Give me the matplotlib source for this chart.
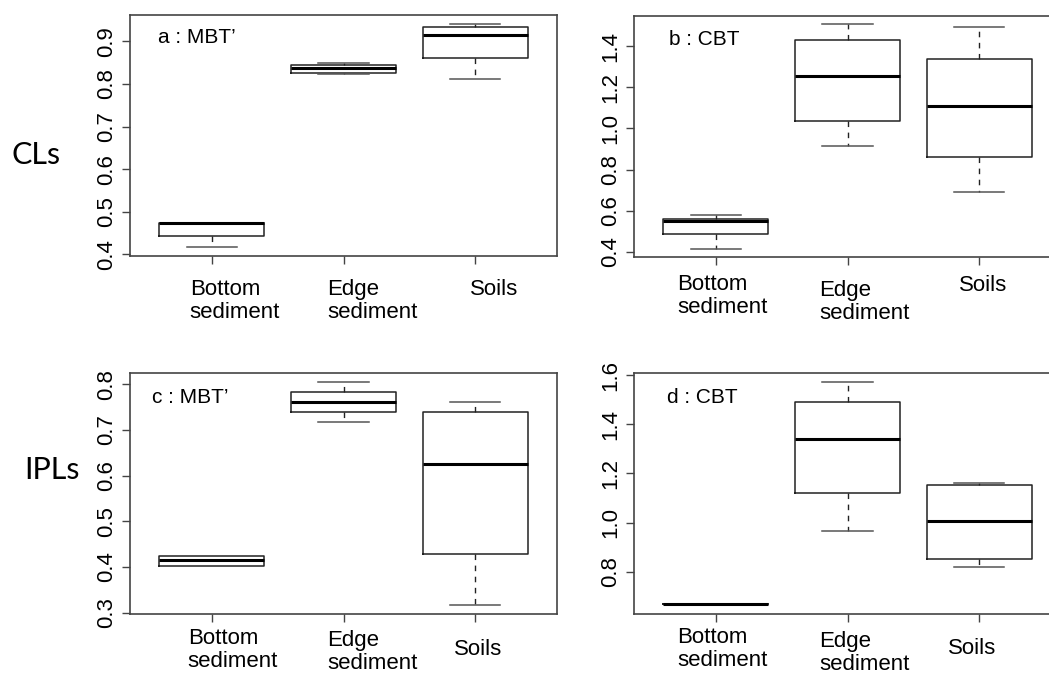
import matplotlib.pyplot as plt

plt.rcParams['font.family'] = ['Liberation Sans', 'DejaVu Sans']

groups = ['Bottom\nsediment', 'Edge\nsediment', 'Soils']
row_names = ['CLs', 'IPLs']
panel_titles = ['a : MBT\u2019', 'b : CBT', 'c : MBT\u2019', 'd : CBT']

# five-number summaries: low whisker, q1, median, q3, high whisker
a_lo = [0.417, 0.8245, 0.812]
a_q1 = [0.444, 0.826, 0.861]
a_med = [0.473, 0.838, 0.916]
a_q3 = [0.474, 0.845, 0.933]
a_hi = [0.474, 0.850, 0.941]

b_lo = [0.417, 0.913, 0.690]
b_q1 = [0.487, 1.036, 0.860]
b_med = [0.552, 1.253, 1.111]
b_q3 = [0.562, 1.429, 1.337]
b_hi = [0.581, 1.505, 1.492]

c_lo = [0.4028, 0.717, 0.316]
c_q1 = [0.4028, 0.739, 0.4277]
c_med = [0.4152, 0.762, 0.625]
c_q3 = [0.4246, 0.783, 0.739]
c_hi = [0.4246, 0.806, 0.761]

d_lo = [0.668, 0.967, 0.819]
d_q1 = [0.668, 1.121, 0.850]
d_med = [0.668, 1.342, 1.007]
d_q3 = [0.668, 1.490, 1.154]
d_hi = [0.668, 1.573, 1.162]

panels = [
    (a_lo, a_q1, a_med, a_q3, a_hi),
    (b_lo, b_q1, b_med, b_q3, b_hi),
    (c_lo, c_q1, c_med, c_q3, c_hi),
    (d_lo, d_q1, d_med, d_q3, d_hi),
]

ylims = [(0.396, 0.962), (0.376, 1.546), (0.297, 0.825), (0.628, 1.609)]
yticks = [[0.4, 0.5, 0.6, 0.7, 0.8, 0.9],
          [0.4, 0.6, 0.8, 1.0, 1.2, 1.4],
          [0.3, 0.4, 0.5, 0.6, 0.7, 0.8],
          [0.8, 1.0, 1.2, 1.4, 1.6]]

W, H = 1049, 673
fig = plt.figure(figsize=(W / 100, H / 100), dpi=100)

# axes boxes in pixels: left, top, right, bottom
boxes = [(130, 15, 557, 256), (634, 16, 1061, 257),
         (130, 373, 557, 614), (634, 373, 1061, 614)]

# label left positions (data x) and drop below axis (px)
label_x = [[0.833, 1.879, 2.962], [0.71, 1.786, 2.847],
           [0.818, 1.879, 2.84], [0.71, 1.786, 2.763]]
label_drop = [[22, 22, 22], [16, 22, 17], [13, 15, 24], [12, 16, 23]]
title_pos = [(0.066, 0.884), (0.082, 0.878), (0.052, 0.876), (0.077, 0.876)]

frame_col = '#444444'

for i, (lo, q1, med, q3, hi) in enumerate(panels):
    l, t, r, b = boxes[i]
    ax = fig.add_axes([l / W, 1 - b / H, (r - l) / W, (b - t) / H])
    stats = []
    for k in range(3):
        stats.append({'whislo': lo[k], 'q1': q1[k], 'med': med[k],
                      'q3': q3[k], 'whishi': hi[k], 'fliers': []})
    ax.bxp(stats, positions=[1, 2, 3], widths=0.8, capwidths=0.38,
           showfliers=False,
           boxprops=dict(color='#222222', linewidth=1.1),
           medianprops=dict(color='black', linewidth=2.2),
           whiskerprops=dict(color='#222222', linewidth=1.0, linestyle=(0, (4, 4))),
           capprops=dict(color='#555555', linewidth=1.1))
    ax.set_xlim(0.38, 3.62)
    ax.set_ylim(*ylims[i])
    ax.set_xticks([1, 2, 3])
    ax.set_xticklabels([])
    ax.set_yticks(yticks[i])
    ax.set_yticklabels(['%.1f' % v for v in yticks[i]], rotation=90,
                       va='center', fontsize=16)
    ax.tick_params(direction='out', length=6, width=1, color=frame_col, pad=3)
    for s in ax.spines.values():
        s.set_color(frame_col)
        s.set_linewidth(1.2)
    ax.text(title_pos[i][0], title_pos[i][1], panel_titles[i],
            transform=ax.transAxes, fontsize=15, va='baseline', ha='left')
    for k in range(3):
        ax.annotate(groups[k], xy=(label_x[i][k], 0),
                    xycoords=('data', 'axes fraction'),
                    xytext=(0, -(label_drop[i][k] + 1)),
                    textcoords='offset pixels', ha='left', va='top',
                    fontsize=16, linespacing=1.1, annotation_clip=False)

fig.text(36 / W, 1 - 155 / H, row_names[0], family=['Lato', 'DejaVu Sans'],
         fontsize=22, ha='center', va='center')
fig.text(52 / W, 1 - 470 / H, row_names[1], family=['Lato', 'DejaVu Sans'],
         fontsize=22, ha='center', va='center')

fig.savefig('out.png', dpi=100)
